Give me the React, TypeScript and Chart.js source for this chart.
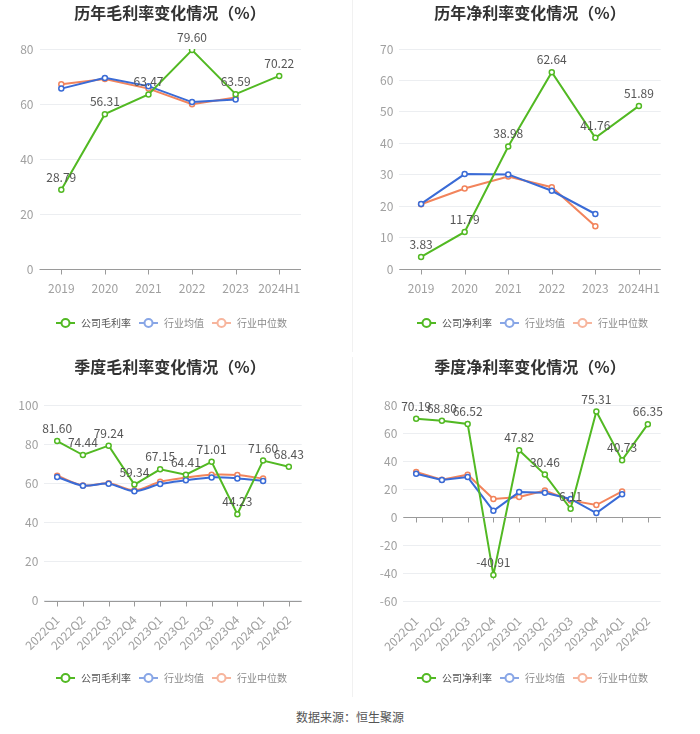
import React, { useEffect, useRef } from "react";
import { Chart, registerables } from "chart.js";

Chart.register(...registerables);

// ---------- data ----------
const yearCategories = ["2019", "2020", "2021", "2022", "2023", "2024H1"];
const quarterCategories = [
  "2022Q1", "2022Q2", "2022Q3", "2022Q4",
  "2023Q1", "2023Q2", "2023Q3", "2023Q4",
  "2024Q1", "2024Q2",
];

const annualGrossCompany = [28.79, 56.31, 63.47, 79.6, 63.59, 70.22];
const annualGrossIndustryAvg = [65.6, 69.5, 66.5, 60.7, 61.6, null];
const annualGrossIndustryMedian = [67.2, 69.1, 65.6, 59.9, 62.4, null];

const annualNetCompany = [3.83, 11.79, 38.98, 62.64, 41.76, 51.89];
const annualNetIndustryAvg = [20.7, 30.2, 30.1, 24.9, 17.5, null];
const annualNetIndustryMedian = [20.6, 25.6, 29.4, 26.0, 13.6, null];

const quarterGrossCompany = [81.6, 74.44, 79.24, 59.34, 67.15, 64.41, 71.01, 44.23, 71.6, 68.43];
const quarterGrossIndustryAvg = [63.2, 58.8, 59.8, 55.9, 59.6, 61.5, 63.0, 62.5, 61.2, null];
const quarterGrossIndustryMedian = [63.9, 58.9, 60.0, 56.4, 60.8, 62.9, 64.4, 64.2, 62.4, null];

const quarterNetCompany = [70.19, 68.8, 66.52, -40.91, 47.82, 30.46, 6.11, 75.31, 40.73, 66.35];
const quarterNetIndustryAvg = [31.1, 26.6, 28.7, 4.7, 18.0, 17.6, 13.1, 3.1, 16.4, null];
const quarterNetIndustryMedian = [32.3, 26.8, 30.4, 13.1, 14.5, 19.2, 12.1, 8.8, 18.5, null];

const annualGrossAxis = { min: 0, max: 80, step: 20 };
const annualNetAxis = { min: 0, max: 70, step: 10 };
const quarterGrossAxis = { min: 0, max: 100, step: 20 };
const quarterNetAxis = { min: -60, max: 80, step: 20 };

const titles = [
  "历年毛利率变化情况（%）",
  "历年净利率变化情况（%）",
  "季度毛利率变化情况（%）",
  "季度净利率变化情况（%）",
];
const grossName = "公司毛利率";
const netName = "公司净利率";
const avgName = "行业均值";
const medianName = "行业中位数";
const sourceText = "数据来源：恒生聚源";

// ---------- style ----------
const GREEN = "#52b923";
const BLUE = "#3a6bd6";
const ORANGE = "#f2845c";
const FONT = '"Noto Sans CJK SC", "Noto Sans", sans-serif';

Chart.defaults.font.family = FONT;

const axisLinePlugin = {
  id: "axisLine",
  afterDraw(chart: any) {
    const { ctx, chartArea, scales } = chart;
    const x = scales.x;
    const y = scales.y;
    const y0 = y.getPixelForValue(0);
    ctx.save();
    ctx.strokeStyle = "#9a9a9a";
    ctx.lineWidth = 1;
    ctx.beginPath();
    ctx.moveTo(chartArea.left, Math.round(y0) + 0.5);
    ctx.lineTo(chartArea.right, Math.round(y0) + 0.5);
    const n = chart.data.labels.length;
    for (let i = 0; i < n; i++) {
      const px = Math.round(x.getPixelForValue(i)) + 0.5;
      ctx.moveTo(px, Math.round(y0) + 0.5);
      ctx.lineTo(px, Math.round(y0) + 5.5);
    }
    ctx.stroke();
    ctx.restore();
  },
};

const valueLabelPlugin = {
  id: "valueLabels",
  afterDatasetsDraw(chart: any) {
    const { ctx } = chart;
    const meta = chart.getDatasetMeta(0);
    const data = chart.data.datasets[0].data;
    ctx.save();
    ctx.fillStyle = "#555";
    ctx.font = `12px ${FONT}`;
    ctx.textAlign = "center";
    ctx.textBaseline = "alphabetic";
    meta.data.forEach((pt: any, i: number) => {
      const v = data[i];
      if (v == null) return;
      ctx.fillText(Number(v).toFixed(2), pt.x, pt.y - 8);
    });
    ctx.restore();
  },
};

type Area = { left: number; right: number; top: number; bottom: number };

function mkSet(label: string, data: any[], color: string, tension = 0) {
  return {
    label,
    data,
    borderColor: color,
    backgroundColor: color,
    borderWidth: 2,
    pointRadius: 2.5,
    pointBorderWidth: 1.5,
    pointBackgroundColor: "#fff",
    pointBorderColor: color,
    tension,
    spanGaps: false,
  };
}

function LineChart(props: {
  x: number;
  y: number;
  area: Area;
  labels: string[];
  company: any[];
  avg: any[];
  median: any[];
  companyName: string;
  axis: { min: number; max: number; step: number };
  rotate: number;
  tension: number;
}) {
  const ref = useRef<HTMLCanvasElement>(null);
  useEffect(() => {
    const { area, axis } = props;
    const chart = new Chart(ref.current as HTMLCanvasElement, {
      type: "line",
      data: {
        labels: props.labels,
        datasets: [
          mkSet(props.companyName, props.company, GREEN),
          mkSet(avgName, props.avg, BLUE, props.tension),
          mkSet(medianName, props.median, ORANGE, props.tension),
        ],
      } as any,
      options: {
        animation: false,
        responsive: false,
        maintainAspectRatio: false,
        layout: { padding: { left: 0, top: area.top, right: 350 - area.right, bottom: 0 } },
        plugins: {
          legend: { display: false },
          title: { display: false },
          tooltip: { enabled: false },
        },
        scales: {
          x: {
            offset: true,
            grid: { display: false },
            border: { display: false },
            ticks: {
              color: "#a0a0a0",
              font: { size: 12, family: FONT },
              padding: 4,
              autoSkip: false,
              minRotation: props.rotate,
              maxRotation: props.rotate,
            },
            afterFit: (s: any) => {
              s.height = 350 - area.bottom;
            },
          },
          y: {
            min: axis.min,
            max: axis.max,
            grid: { color: "#eceef1", drawTicks: false, lineWidth: 1 },
            border: { display: false },
            ticks: {
              stepSize: axis.step,
              color: "#a0a0a0",
              font: { size: 12, family: FONT },
              padding: 6,
            },
            afterFit: (s: any) => {
              s.width = area.left;
            },
          },
        },
      } as any,
      plugins: [axisLinePlugin, valueLabelPlugin],
    });
    return () => chart.destroy();
  }, []);
  return (
    <canvas
      ref={ref}
      width={350}
      height={350}
      style={{ position: "absolute", left: props.x, top: props.y, width: 350, height: 350 }}
    />
  );
}

function LegendIcon({ color }: { color: string }) {
  return (
    <svg width={19} height={12} style={{ display: "block" }}>
      <line x1={0} y1={6} x2={19} y2={6} stroke={color} strokeWidth={2} />
      <circle cx={9.5} cy={6} r={4} fill="#fff" stroke={color} strokeWidth={2} />
    </svg>
  );
}

function Legend({ x, y, companyName }: { x: number; y: number; companyName: string }) {
  const items = [
    { name: companyName, color: GREEN, text: "#555", op: 1 },
    { name: avgName, color: BLUE, text: "#8a8a8a", op: 0.6 },
    { name: medianName, color: ORANGE, text: "#8a8a8a", op: 0.6 },
  ];
  return (
    <div
      style={{
        position: "absolute",
        left: x,
        top: y - 7,
        height: 14,
        display: "flex",
        alignItems: "center",
        fontFamily: FONT,
        fontSize: 10,
        whiteSpace: "nowrap",
      }}
    >
      {items.map((it, i) => (
        <div key={i} style={{ display: "flex", alignItems: "center", marginRight: i < 2 ? 8 : 0 }}>
          <div style={{ opacity: it.op }}>
            <LegendIcon color={it.color} />
          </div>
          <span style={{ marginLeft: 6, color: it.text, lineHeight: "14px" }}>{it.name}</span>
        </div>
      ))}
    </div>
  );
}

function Title({ cx, cy, text }: { cx: number; cy: number; text: string }) {
  return (
    <div
      style={{
        position: "absolute",
        left: cx - 120,
        width: 240,
        top: cy - 11,
        height: 22,
        lineHeight: "22px",
        textAlign: "center",
        fontFamily: FONT,
        fontSize: 16,
        fontWeight: "bold",
        color: "#333",
        whiteSpace: "nowrap",
      }}
    >
      {text}
    </div>
  );
}

export default function App() {
  return (
    <div
      style={{
        position: "absolute",
        left: 0,
        top: 0,
        width: 700,
        height: 734,
        background: "#fff",
        overflow: "hidden",
      }}
    >
      <div style={{ position: "absolute", left: 352, top: 0, width: 1, height: 352, background: "#f1f1f1" }} />
      <div style={{ position: "absolute", left: 352, top: 357, width: 1, height: 340, background: "#f1f1f1" }} />

      <LineChart
        x={0}
        y={0}
        area={{ left: 39.5, right: 301, top: 49, bottom: 269 }}
        labels={yearCategories}
        company={annualGrossCompany}
        avg={annualGrossIndustryAvg}
        median={annualGrossIndustryMedian}
        companyName={grossName}
        axis={annualGrossAxis}
        rotate={0}
        tension={0}
      />
      <LineChart
        x={350}
        y={0}
        area={{ left: 49.3, right: 310.7, top: 49, bottom: 269 }}
        labels={yearCategories}
        company={annualNetCompany}
        avg={annualNetIndustryAvg}
        median={annualNetIndustryMedian}
        companyName={netName}
        axis={annualNetAxis}
        rotate={0}
        tension={0}
      />
      <LineChart
        x={0}
        y={350}
        area={{ left: 44.3, right: 301.7, top: 55, bottom: 250.7 }}
        labels={quarterCategories}
        company={quarterGrossCompany}
        avg={quarterGrossIndustryAvg}
        median={quarterGrossIndustryMedian}
        companyName={grossName}
        axis={quarterGrossAxis}
        rotate={45}
        tension={0.3}
      />
      <LineChart
        x={350}
        y={350}
        area={{ left: 53.3, right: 310.7, top: 55, bottom: 251.7 }}
        labels={quarterCategories}
        company={quarterNetCompany}
        avg={quarterNetIndustryAvg}
        median={quarterNetIndustryMedian}
        companyName={netName}
        axis={quarterNetAxis}
        rotate={45}
        tension={0}
      />

      <Title cx={170} cy={12} text={titles[0]} />
      <Title cx={530} cy={12} text={titles[1]} />
      <Title cx={170} cy={366} text={titles[2]} />
      <Title cx={530} cy={366} text={titles[3]} />

      <Legend x={56} y={322.7} companyName={grossName} />
      <Legend x={417} y={322.7} companyName={netName} />
      <Legend x={56} y={678} companyName={grossName} />
      <Legend x={417} y={678} companyName={netName} />

      <div
        style={{
          position: "absolute",
          left: 0,
          width: 700,
          top: 709,
          height: 16,
          lineHeight: "16px",
          textAlign: "center",
          fontFamily: FONT,
          fontSize: 12,
          color: "#555",
        }}
      >
        {sourceText}
      </div>
    </div>
  );
}
